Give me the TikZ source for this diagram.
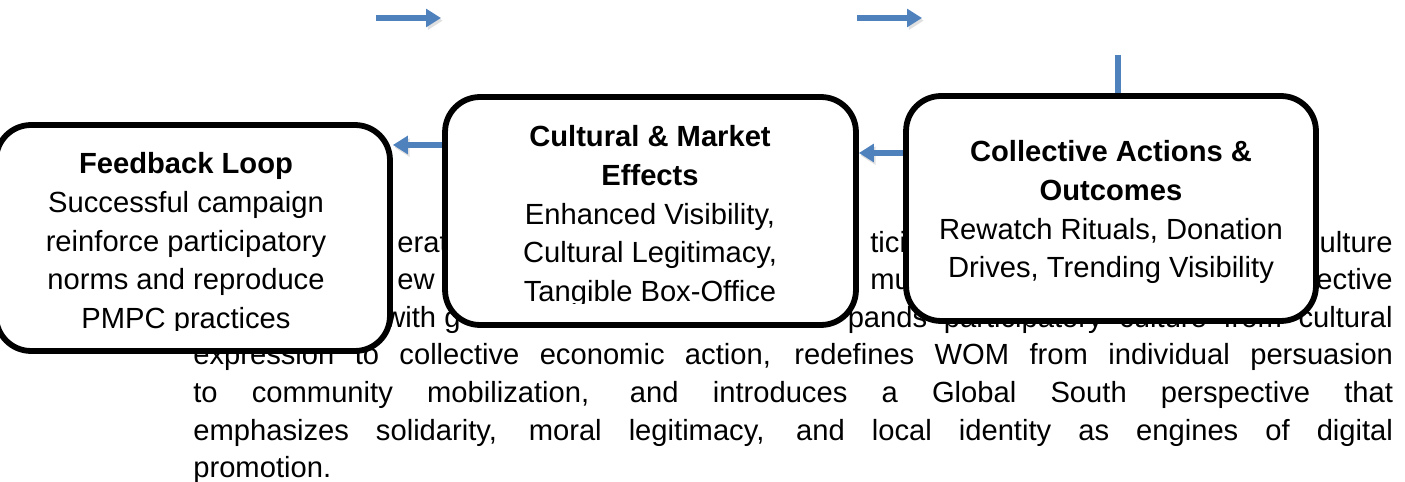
\documentclass[tikz,border=0pt]{standalone}
\usepackage{fontspec}
\setmainfont{Liberation Sans}
\usetikzlibrary{arrows.meta,backgrounds}

\definecolor{flowblue}{HTML}{4F81BD}

\tikzset{
  card/.style={draw=black, line width=3.3pt, rounded corners=0.7cm, fill=white},
  cardtext/.style={align=center, inner sep=0pt, anchor=north, font=\fontsize{16.6}{22.1}\selectfont},
  para/.style={inner sep=0pt, anchor=base west, font=\fontsize{16.6}{21.3}\selectfont},
  flow/.style={draw=flowblue, line width=3pt, -{Triangle[length=8.5pt,width=10pt]},
    preaction={draw=black!12, transform canvas={shift={(1pt,-1.5pt)}}}}
}

\begin{document}
\begin{tikzpicture}[x=0.02cm,y=-0.02cm]
   \useasboundingbox (0,0) rectangle (1405,482);
   % text of the page behind the figure
   \node[para] (l1a) at (397,252.5) {erat};
   \node[para] (l1b) at (870,252.5) {tici};
   \node[para, anchor=base east] (l1c) at (1393,252.5) {ulture};
   \node[para] (l2a) at (397,290) {ew};
   \node[para] (l2b) at (870,290) {mu};
   \node[para, anchor=base east] (l2c) at (1393,290) {ective};
   \node[para] (l3a) at (384,327.5) {with g};
   \node[para, anchor=base east] (l3b) at (1393,327.5) {\makebox[10.9cm][s]{pands participatory culture from cultural}};
   \node[para] (l4) at (193,365) {\makebox[24cm][s]{expression to collective economic action, redefines WOM from individual persuasion}};
   \node[para] (l5) at (193,402.5) {\makebox[24cm][s]{to community mobilization, and introduces a Global South perspective that}};
   \node[para] (l6) at (193,440) {\makebox[24cm][s]{emphasizes solidarity, moral legitimacy, and local identity as engines of digital}};
   \node[para] (l7) at (193,477) {promotion.};
   % boxes
   \node[card, minimum width=7.88cm, minimum height=4.52cm] (feedback) at (193,238) {};
   \node[card, minimum width=8.22cm, minimum height=4.56cm] (effects) at (650.5,211) {};
   \node[card, minimum width=8.2cm, minimum height=4.5cm] (actions) at (1111,208.5) {};
   \begin{scope}
    \clip (-20,100) rectangle (400,331);
    \node[cardtext] (feedbacktxt) at (186,152) {\textbf{Feedback Loop}\\Successful campaign\\reinforce participatory\\norms and reproduce\\PMPC practices};
   \end{scope}
   \begin{scope}
    \clip (440,90) rectangle (860,304);
    \node[cardtext] (effectstxt) at (650,125) {\textbf{Cultural \& Market}\\\textbf{Effects}\\Enhanced Visibility,\\Cultural Legitimacy,\\Tangible Box-Office};
   \end{scope}
   \node[cardtext] (actionstxt) at (1111,140) {\textbf{Collective Actions \&}\\\textbf{Outcomes}\\Rewatch Rituals, Donation\\Drives, Trending Visibility};
   % arrows
   \coordinate (in1) at (376,18);
   \coordinate (out1) at (441,18);
   \coordinate (in2) at (857,18);
   \coordinate (out2) at (922,18);
   \draw[flow] (in1) -- (out1);
   \draw[flow] (in2) -- (out2);
   \begin{pgfonlayer}{background}
    \coordinate (lvl1) at (0,145);
    \coordinate (lvl2) at (0,153);
    \coordinate (vin) at (1118,55);
    \draw[flow] (effects.west |- lvl1) -- (feedback.east |- lvl1);
    \draw[flow] (actions.west |- lvl2) -- (effects.east |- lvl2);
    \draw[flow, shorten >=-0.3cm] (vin) -- (vin |- actions.north);
   \end{pgfonlayer}
\end{tikzpicture}
\end{document}
